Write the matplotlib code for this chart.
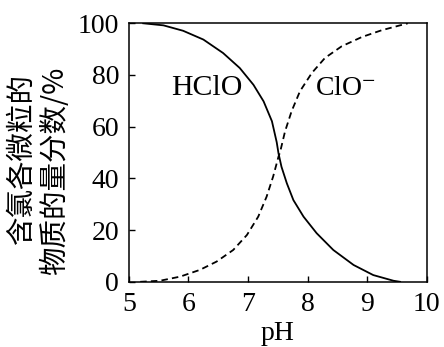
import matplotlib
matplotlib.use("Agg")
import matplotlib.pyplot as plt

plt.rcParams.update({
    "font.family": ["Liberation Serif", "DejaVu Serif"],
    "mathtext.fontset": "stix",
    "font.size": 20,
    "axes.linewidth": 1.1,
    "xtick.direction": "in",
    "ytick.direction": "in",
    "xtick.major.size": 4,
    "ytick.major.size": 4,
    "xtick.major.width": 1.0,
    "ytick.major.width": 1.0,
})

# datos
hclo_ph = [5.24, 5.58, 5.91, 6.25, 6.58, 6.86, 7.09, 7.26, 7.40, 7.48,
           7.51, 7.56, 7.65, 7.76, 7.93, 8.15, 8.43, 8.77, 9.10, 9.44, 9.55]
hclo_pct = [100, 99.2, 97.1, 93.7, 88.5, 82.7, 76.2, 69.8, 62.1, 54.0,
            49.7, 44.5, 38.1, 31.6, 25.2, 18.8, 12.3, 6.5, 2.6, 0.4, 0]

clo_ph = [5.19, 5.52, 5.86, 6.19, 6.47, 6.75, 6.98, 7.17, 7.31, 7.42,
          7.51, 7.54, 7.62, 7.73, 7.87, 8.07, 8.29, 8.57, 8.91, 9.24, 9.63, 9.68]
clo_pct = [0, 0.4, 2.0, 4.6, 7.8, 12.3, 18.1, 25.2, 32.9, 40.7,
           48.4, 50.5, 58.2, 66.0, 73.7, 80.8, 86.6, 91.1, 94.7, 97.3, 99.7, 100]

x_ticks = [5, 6, 7, 8, 9, 10]
y_ticks = [0, 20, 40, 60, 80, 100]

fig = plt.figure(figsize=(4.44, 3.47), dpi=100)
ax = fig.add_axes([0.2903, 0.1879, 0.6712, 0.7450])

ax.plot(hclo_ph, hclo_pct, color="black", lw=1.3)
ax.plot(clo_ph, clo_pct, color="black", lw=1.3, linestyle=(0, (3.6, 2.3)))

ax.text(5.71, 74.9, "HClO", ha="left", va="center", fontsize=21.5)
ax.text(8.13, 74.9, r"ClO$^{-}$", ha="left", va="center", fontsize=20)

ax.set_xlim(5, 10)
ax.set_ylim(0, 100)
ax.set_xticks(x_ticks)
ax.set_yticks(y_ticks)
ax.tick_params(axis="both", pad=7, labelsize=20)
ax.set_xlabel("pH", fontsize=20, labelpad=3)

cjk = ["Noto Sans CJK SC", "DejaVu Sans"]
fig.text(0.0495, 0.5418, "含氯各微粒的", rotation=90, ha="center", va="center",
         fontsize=20.5, family=cjk)
fig.text(0.1239, 0.5072, "物质的量分数/%", rotation=90, ha="center", va="center",
         fontsize=20.5, family=cjk)

fig.savefig("out.png", dpi=100)
